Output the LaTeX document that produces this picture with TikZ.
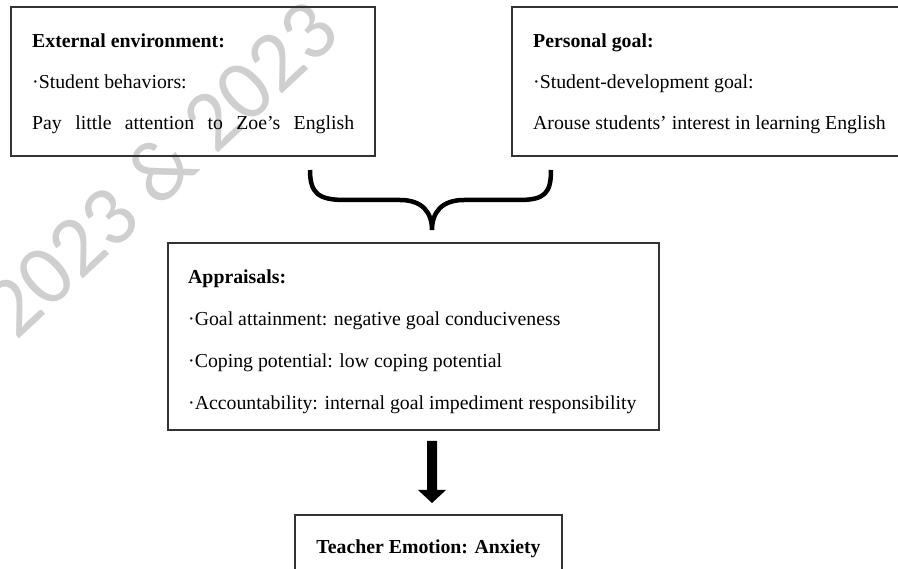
\documentclass[tikz,border=0pt]{standalone}
\usepackage{fontspec}
\setmainfont{Liberation Serif}
\newfontfamily\wmfont{Carlito}
\begin{document}
\begin{tikzpicture}[x=1pt,y=-1pt,
  box/.style={draw=black!80, line width=1.3pt, rectangle, inner sep=0pt, outer sep=0pt},
  txt/.style={anchor=base west, inner sep=0pt, font=\fontsize{19.8}{23}\selectfont},
  hd/.style={txt, font=\fontsize{19.8}{23}\selectfont\bfseries},
  brace/.style={line width=4.5pt, line cap=butt, black},
  stampstyle/.style={text=black!19, inner sep=0pt, font=\fontsize{86}{86}\selectfont\wmfont}
]
\useasboundingbox (0,0) rectangle (898,569);

% faint diagonal stamp behind the diagram
\node[stampstyle, rotate=43] (stamp) at (160,168) {2023 \& 2023};

% boxes
\node[box, minimum width=364pt, minimum height=149pt] (ext) at (193,81.5) {};
\node[box, minimum width=388pt, minimum height=149pt] (pers) at (706,81.5) {};
\node[box, minimum width=491pt, minimum height=187pt] (appr) at (413.5,336.5) {};
\node[box, minimum width=267pt, minimum height=62pt] (emo) at (428.5,546) {};

% external environment
\node[hd] (exth) at (32,48) {External environment:};
\node[txt] (ext1) at (32,89) {·Student behaviors:};
\node[txt] (ext2) at (32,130) {\makebox[322pt][s]{Pay little attention to Zoe’s English}};

% personal goal
\node[hd] (persh) at (533,48) {Personal goal:};
\node[txt] (pers1) at (533,89) {·Student-development goal:};
\node[txt] (pers2) at (533,130) {Arouse students’ interest in learning English};

% appraisals
\node[hd] (apprh) at (188,284) {Appraisals:};
\node[txt] (appr1) at (188,326) {·Goal attainment: negative goal conduciveness};
\node[txt] (appr2) at (188,368) {·Coping potential: low coping potential};
\node[txt] (appr3) at (188,410) {·Accountability: internal goal impediment responsibility};

% emotion
\node[hd, anchor=base] (emoh) at (emo.center |- 0,554) {Teacher Emotion: Anxiety};

% curly brace joining the two upper boxes
\coordinate (bl) at (310,170);
\coordinate (br) at (551,170);
\coordinate (bt) at (432,230);
\draw[brace] (bl) .. controls (310,193) and (318,200) .. (345,200)
  -- (400,200) .. controls (422,200) and (432,212) .. (bt)
  .. controls (432,212) and (442,200) .. (464,200)
  -- (519,200) .. controls (545,200) and (551,193) .. (br);

% block arrow towards the emotion
\coordinate (at) at (432,441);
\coordinate (ah) at (432,503);
\fill[black] ([xshift=-5pt]at) -- ([xshift=5pt]at) -- (437,490) -- (446,490)
  -- (ah) -- (418,490) -- (427,490) -- cycle;
\end{tikzpicture}
\end{document}
